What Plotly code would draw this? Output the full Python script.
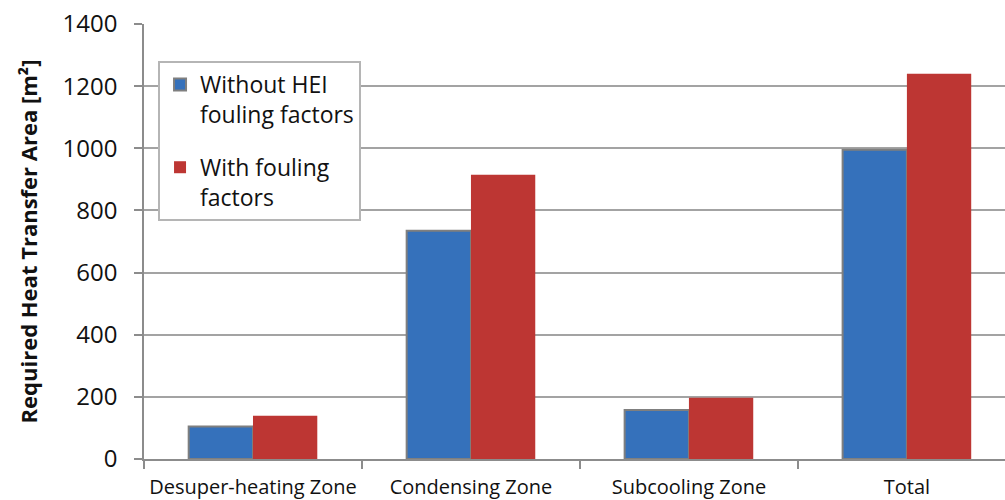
import plotly.graph_objects as go

# Heat exchanger zones and required heat transfer area (m²)
zones = ["Desuper-heating Zone", "Condensing Zone", "Subcooling Zone", "Total"]
area_without_fouling = [105, 735, 158, 995]
area_with_fouling = [139, 915, 197, 1240]

series_names = ["Without HEI<br>fouling factors", "With fouling<br>factors"]
y_ticks = [0, 200, 400, 600, 800, 1000, 1200, 1400]

FONT = "Open Sans"

fig = go.Figure()
fig.add_trace(go.Bar(
    x=zones, y=area_without_fouling, name=series_names[0],
    legendgroup="a",
    marker=dict(color="#3571bb", line=dict(color="#7f7f7f", width=2)),
))
fig.add_trace(go.Bar(
    x=zones, y=area_with_fouling, name=series_names[1],
    legendgroup="b",
    marker=dict(color="#bd3633", line=dict(width=0)),
))

fig.update_layout(
    width=1005, height=500,
    margin=dict(l=144, r=0, t=24, b=41),
    paper_bgcolor="white", plot_bgcolor="white",
    barmode="group", bargap=0.41, bargroupgap=0,
    font=dict(family=FONT, color="#1a1a1a"),
    legend=dict(
        x=0.0163, y=0.915, xanchor="left", yanchor="top",
        bgcolor="white", bordercolor="#b5b5b5", borderwidth=2,
        font=dict(size=23, family=FONT, color="#111111"),
        traceorder="grouped", tracegroupgap=20, valign="top",
        itemwidth=30,
    ),
    xaxis=dict(
        range=[-0.5, 3.45],
        showline=True, linecolor="#8c8c8c", linewidth=1.5,
        ticks="outside", ticklen=8, tickcolor="#8c8c8c", tickwidth=1.5,
        tickson="boundaries", ticklabelstandoff=9,
        tickfont=dict(size=20, family=FONT, color="#111111"),
        showgrid=False,
    ),
    yaxis=dict(
        range=[0, 1400], tickvals=y_ticks,
        showline=True, linecolor="#8c8c8c", linewidth=1.5,
        ticks="outside", ticklen=8, tickcolor="#8c8c8c", tickwidth=1.5,
        ticklabelstandoff=12,
        showgrid=True, gridcolor="#a3a3a3", gridwidth=1.5,
        zeroline=False,
        tickfont=dict(size=24, family=FONT, color="#111111"),
        title=dict(text="<b>Required Heat Transfer Area [m²]</b>",
                   font=dict(size=22, family=FONT, color="#111111"),
                   standoff=19),
    ),
)

fig.write_html("out.html")
